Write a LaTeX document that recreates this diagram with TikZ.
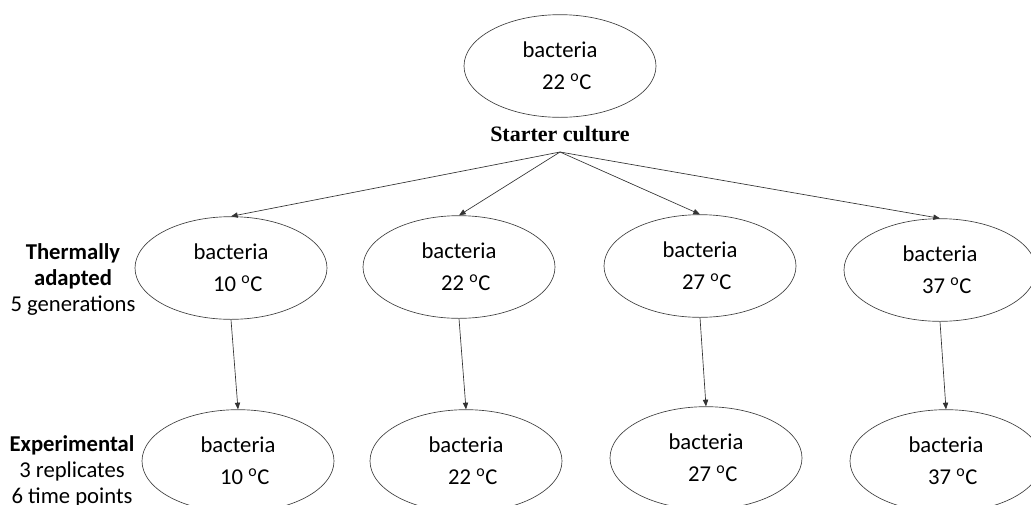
\documentclass[tikz,border=0pt]{standalone}
\usepackage{fontspec}
\setmainfont{Carlito}
\newfontfamily\starterfont{Liberation Serif}
\usetikzlibrary{shapes.geometric,arrows.meta}

\begin{document}
\begin{tikzpicture}[x=0.75pt, y=-0.75pt,
  cell/.style = {
    shape=ellipse, draw=black!75, line width=0.5pt,
    minimum width=144pt, minimum height=77pt, inner sep=0pt,
    align=center, font=\fontsize{17}{20}\selectfont,
  },
  side label/.style = {
    align=center, font=\fontsize{17}{19.5}\selectfont,
  },
  link/.style = {
    draw=black!80, line width=0.5pt,
    -{Triangle[length=5pt,width=4pt]},
  }]
  \useasboundingbox (0,0) rectangle (1031,504);

  % starter culture
  \node[name=top, cell] at (560,66)
    {bacteria\\[4pt]\hspace*{0.6em}22 \textsuperscript{o}C};
  \node[name=start, font=\starterfont\bfseries\fontsize{16.5}{20}\selectfont]
    at (560,134) {Starter culture};
  \coordinate (fork) at (560,152);

  % thermally adapted and experimental rows
  \foreach \i/\xa/\ya/\xb/\yb/\temp in
    {1/231/268/238/461/10, 2/459/267/466/461/22,
     3/700/266/706/458/27, 4/940/270/946/461/37}
  {
    \node[name=adapt\i, cell] at (\xa,\ya)
      {bacteria\\[4pt]\hspace*{0.6em}\temp{} \textsuperscript{o}C};
    \node[name=exp\i, cell] at (\xb,\yb)
      {bacteria\\[4pt]\hspace*{0.6em}\temp{} \textsuperscript{o}C};
    \draw[link] (fork) -- (adapt\i.north);
    \draw[link] (adapt\i.south) -- (exp\i.north);
  }

  % row labels
  \node[name=adaptlabel, side label] at (73,279)
    {\textbf{Thermally}\\\textbf{adapted}\\5 generations};
  \node[name=explabel, side label] at (72,471)
    {\textbf{Experimental}\\3 replicates\\6 time points};
\end{tikzpicture}
\end{document}
